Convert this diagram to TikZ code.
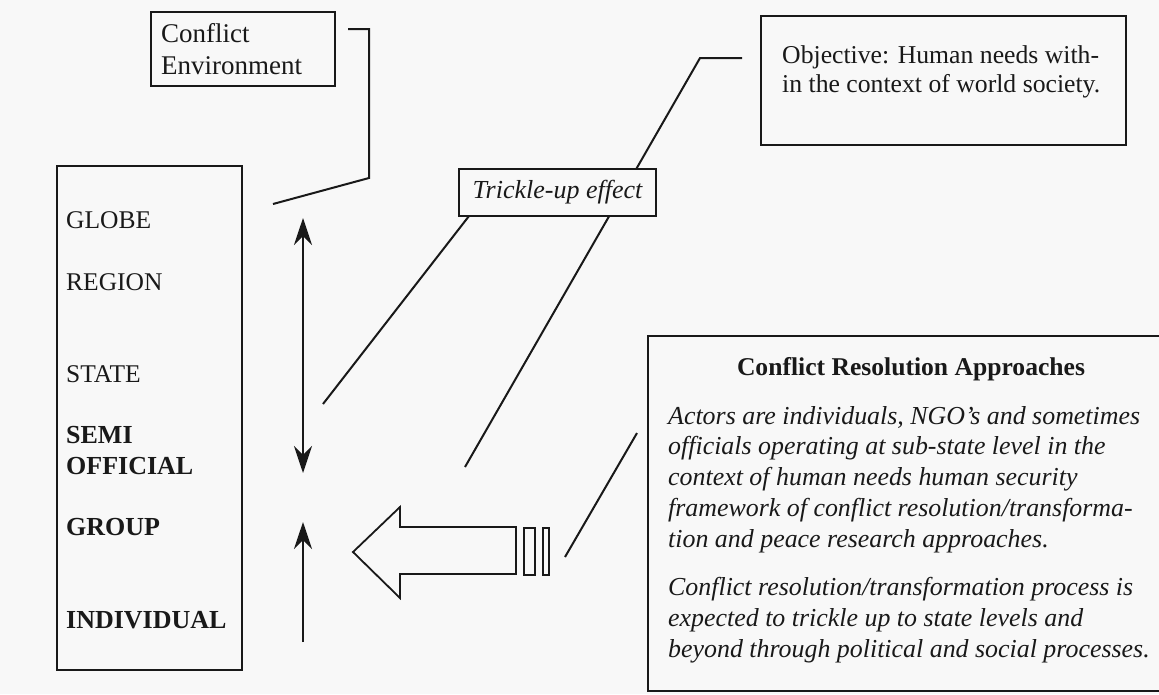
\documentclass[tikz,border=0pt]{standalone}
\usepackage{fontspec}
\setmainfont{Liberation Serif}
\usetikzlibrary{arrows.meta}
\definecolor{paper}{RGB}{248,248,248}
\definecolor{ink}{RGB}{25,25,25}
\begin{document}
\begin{tikzpicture}[x=1pt,y=-1pt,
  box/.style={draw=ink, line width=2pt, inner sep=0pt},
  conn/.style={draw=ink, line width=2pt},
  lvl/.style={anchor=west, inner sep=0pt, text=ink, font=\fontsize{25.5}{28}\selectfont},
  lvlb/.style={anchor=west, inner sep=0pt, text=ink, font=\fontsize{26}{31}\selectfont\bfseries},
  crtext/.style={anchor=north west, inner sep=0pt, text=ink, align=left, font=\fontsize{25.9}{30.8}\selectfont\itshape},
  tipped/.style={-{Stealth[length=27pt,width=18pt]}}
]
\useasboundingbox (0,0) rectangle (1159,694);
\clip (0,0) rectangle (1159,694);
\fill[paper] (0,0) rectangle (1159,694);

% Conflict Environment
\node[box, anchor=north west, minimum width=184pt, minimum height=74pt] (ce) at (150,11) {};
\node[anchor=west, inner sep=0pt, text=ink, align=left, font=\fontsize{27}{32.5}\selectfont] (cet) at (161,49) {Conflict\\Environment};
\coordinate (ce1) at (348,29);
\coordinate (ce2) at (369,29);
\coordinate (ce3) at (369,178);
\coordinate (ce4) at (273,204);
\draw[conn] (ce1) -- (ce2) -- (ce3) -- (ce4);

% Levels box
\node[box, anchor=north west, minimum width=185pt, minimum height=504pt] (lv) at (56,165) {};
\node[lvl] (globe) at (66,220) {GLOBE};
\node[lvl] (region) at (66,282) {REGION};
\node[lvl] (state) at (66,374) {STATE};
\node[lvlb, align=left] (semi) at (66,450.5) {SEMI\\OFFICIAL};
\node[lvlb] (group) at (66,527) {GROUP};
\node[lvlb] (indiv) at (66,620) {INDIVIDUAL};

% vertical arrows
\coordinate (a1t) at (303,218);
\coordinate (a1b) at (303,473);
\draw[conn, {Stealth[length=27pt,width=18pt]}-{Stealth[length=27pt,width=18pt]}] (a1t) -- (a1b);
\coordinate (a2t) at (303,522);
\coordinate (a2b) at (303,642);
\draw[conn, tipped] (a2b) -- (a2t);

% Objective
\node[box, anchor=north west, minimum width=365pt, minimum height=129pt] (obj) at (760,15) {};
\node[anchor=north west, inner sep=0pt, text=ink, align=left, font=\fontsize{25.7}{29}\selectfont] (objt) at (782,45) {Objective: Human needs with-\\in the context of world society.};
\coordinate (o1) at (742,58);
\coordinate (o2) at (700,58);
\coordinate (o3) at (465,467);
\draw[conn] (o1) -- (o2) -- (o3);

% Trickle-up lines
\coordinate (t1a) at (469,216);
\coordinate (t1b) at (323,404);
\draw[conn] (t1a) -- (t1b);

% Trickle-up box
\node[box, fill=paper, anchor=north west, minimum width=197pt, minimum height=47pt, text=ink, font=\fontsize{26}{28}\selectfont\itshape] (tu) at (458,168) {Trickle-up effect};

% hollow arrow
\draw[conn, line width=1.8pt, line join=miter] (353,552) -- (400,507) -- (400,527) -- (516,527) -- (516,574) -- (400,574) -- (400,598) -- cycle;
\node[box, line width=1.8pt, anchor=north west, minimum width=11pt, minimum height=47pt] (bar1) at (523,527) {};
\node[box, line width=1.8pt, anchor=north west, minimum width=6pt, minimum height=47pt] (bar2) at (542,527) {};

% Conflict Resolution box
\node[box, anchor=north west, minimum width=600pt, minimum height=355pt] (cr) at (647,335) {};
\node[inner sep=0pt, text=ink, font=\fontsize{25.6}{30}\selectfont\bfseries] (crt) at (911,369) {Conflict Resolution Approaches};
\node[crtext] (p1) at (668,406) {Actors are individuals, NGO's and sometimes\\officials operating at sub-state level in the\\context of human needs human security\\framework of conflict resolution/transforma-\\tion and peace research approaches.};
\node[crtext] (p2) at (668,577) {Conflict resolution/transformation process is\\expected to trickle up to state levels and\\beyond through political and social processes.};
\coordinate (c1) at (637,433);
\coordinate (c2) at (565,557);
\draw[conn] (c1) -- (c2);
\end{tikzpicture}
\end{document}
